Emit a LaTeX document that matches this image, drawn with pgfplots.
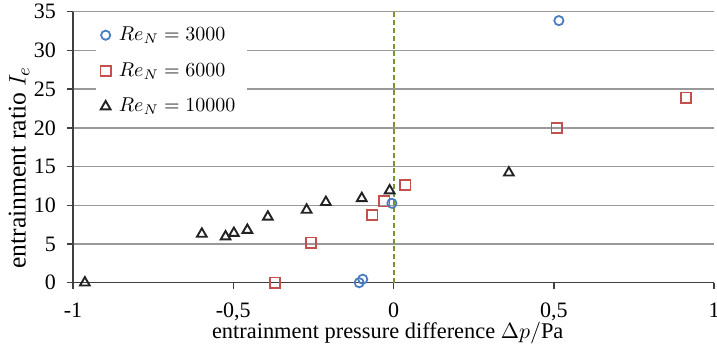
\documentclass[border=0pt]{standalone}
\usepackage{pgfplots}
\pgfplotsset{compat=1.18}
\usepackage{fontspec}
\setmainfont{Liberation Serif}
\definecolor{cblue}{RGB}{74,126,193}
\definecolor{cred}{RGB}{196,80,77}
\definecolor{cblack}{RGB}{35,35,35}
\definecolor{cgreen}{RGB}{119,150,48}
\begin{document}
\begin{tikzpicture}
\begin{axis}[
  scale only axis, width=320.5pt, height=135.5pt,
  xmin=-1, xmax=1, ymin=0, ymax=35,
  xtick={-1,-0.5,0,0.5,1}, ytick={0,5,10,15,20,25,30,35},
  axis x line*=bottom, axis y line*=left,
  axis line style={-, line width=0.8pt, black!75},
  ymajorgrids, grid style={black!40, line width=0.7pt},
  tick align=outside, major tick length=3pt,
  tick style={black!75, line width=0.75pt},
  /pgf/number format/.cd, use comma, assume math mode=true, /pgfplots/.cd,
  tick label style={font=\fontsize{11}{13}\selectfont},
  xticklabel style={inner xsep=0pt, yshift=-3.5pt},
  yticklabel style={xshift=-2pt},
  xlabel={entrainment pressure difference $\Delta p/\mathrm{Pa}$},
  ylabel={entrainment ratio $I_e$},
  xlabel style={font=\fontsize{11.2}{13}\selectfont, at={(axis description cs:0.491,-0.185)}, anchor=center},
  ylabel style={font=\fontsize{12.8}{15}\selectfont, at={(axis description cs:-0.0842,0.425)}, anchor=center},
  legend style={draw=none, fill=white, at={(0.036,0.975)}, anchor=north west,
    font=\fontsize{10}{12}\selectfont, row sep=5.5pt, inner xsep=2pt, inner ysep=2pt,
    nodes={inner xsep=4pt}},
  legend image code/.code={\draw[mark repeat=2,mark phase=2,#1] plot coordinates {(0cm,0cm) (0.2cm,0cm) (0.4cm,0cm)};},
  legend cell align=left,
  clip=false,
]
\addplot[only marks, mark=o, mark size=2.3pt, draw=cblue, line width=0.9pt]
  coordinates {(-0.107,0) (-0.096,0.45) (-0.005,10.25) (0.516,33.85)};
\addlegendentry{$Re_N = 3000$}
\addplot[only marks, mark=square, mark size=2.6pt, draw=cred, line width=0.9pt]
  coordinates {(-0.370,0) (-0.258,5.17) (-0.066,8.75) (-0.029,10.5) (0.037,12.6) (0.509,20.0) (0.913,23.9)};
\addlegendentry{$Re_N = 6000$}
\addplot[only marks, mark=triangle, mark size=2.8pt, draw=cblack, line width=0.95pt]
  coordinates {(-0.963,0) (-0.598,6.3) (-0.524,5.95) (-0.498,6.4) (-0.456,6.8) (-0.392,8.5) (-0.271,9.4) (-0.211,10.4) (-0.099,10.9) (-0.012,11.9) (0.360,14.2)};
\addlegendentry{$Re_N = 10000$}
\addplot[forget plot, cgreen, dash pattern=on 2.5pt off 1.4pt, line width=1pt] coordinates {(0,0) (0,35)};
\end{axis}
\pgfresetboundingbox
\path[use as bounding box] ([xshift=-36.5pt,yshift=-34.65pt]current axis.south west) rectangle ([xshift=1.5pt,yshift=5.85pt]current axis.north east);
\end{tikzpicture}
\end{document}
